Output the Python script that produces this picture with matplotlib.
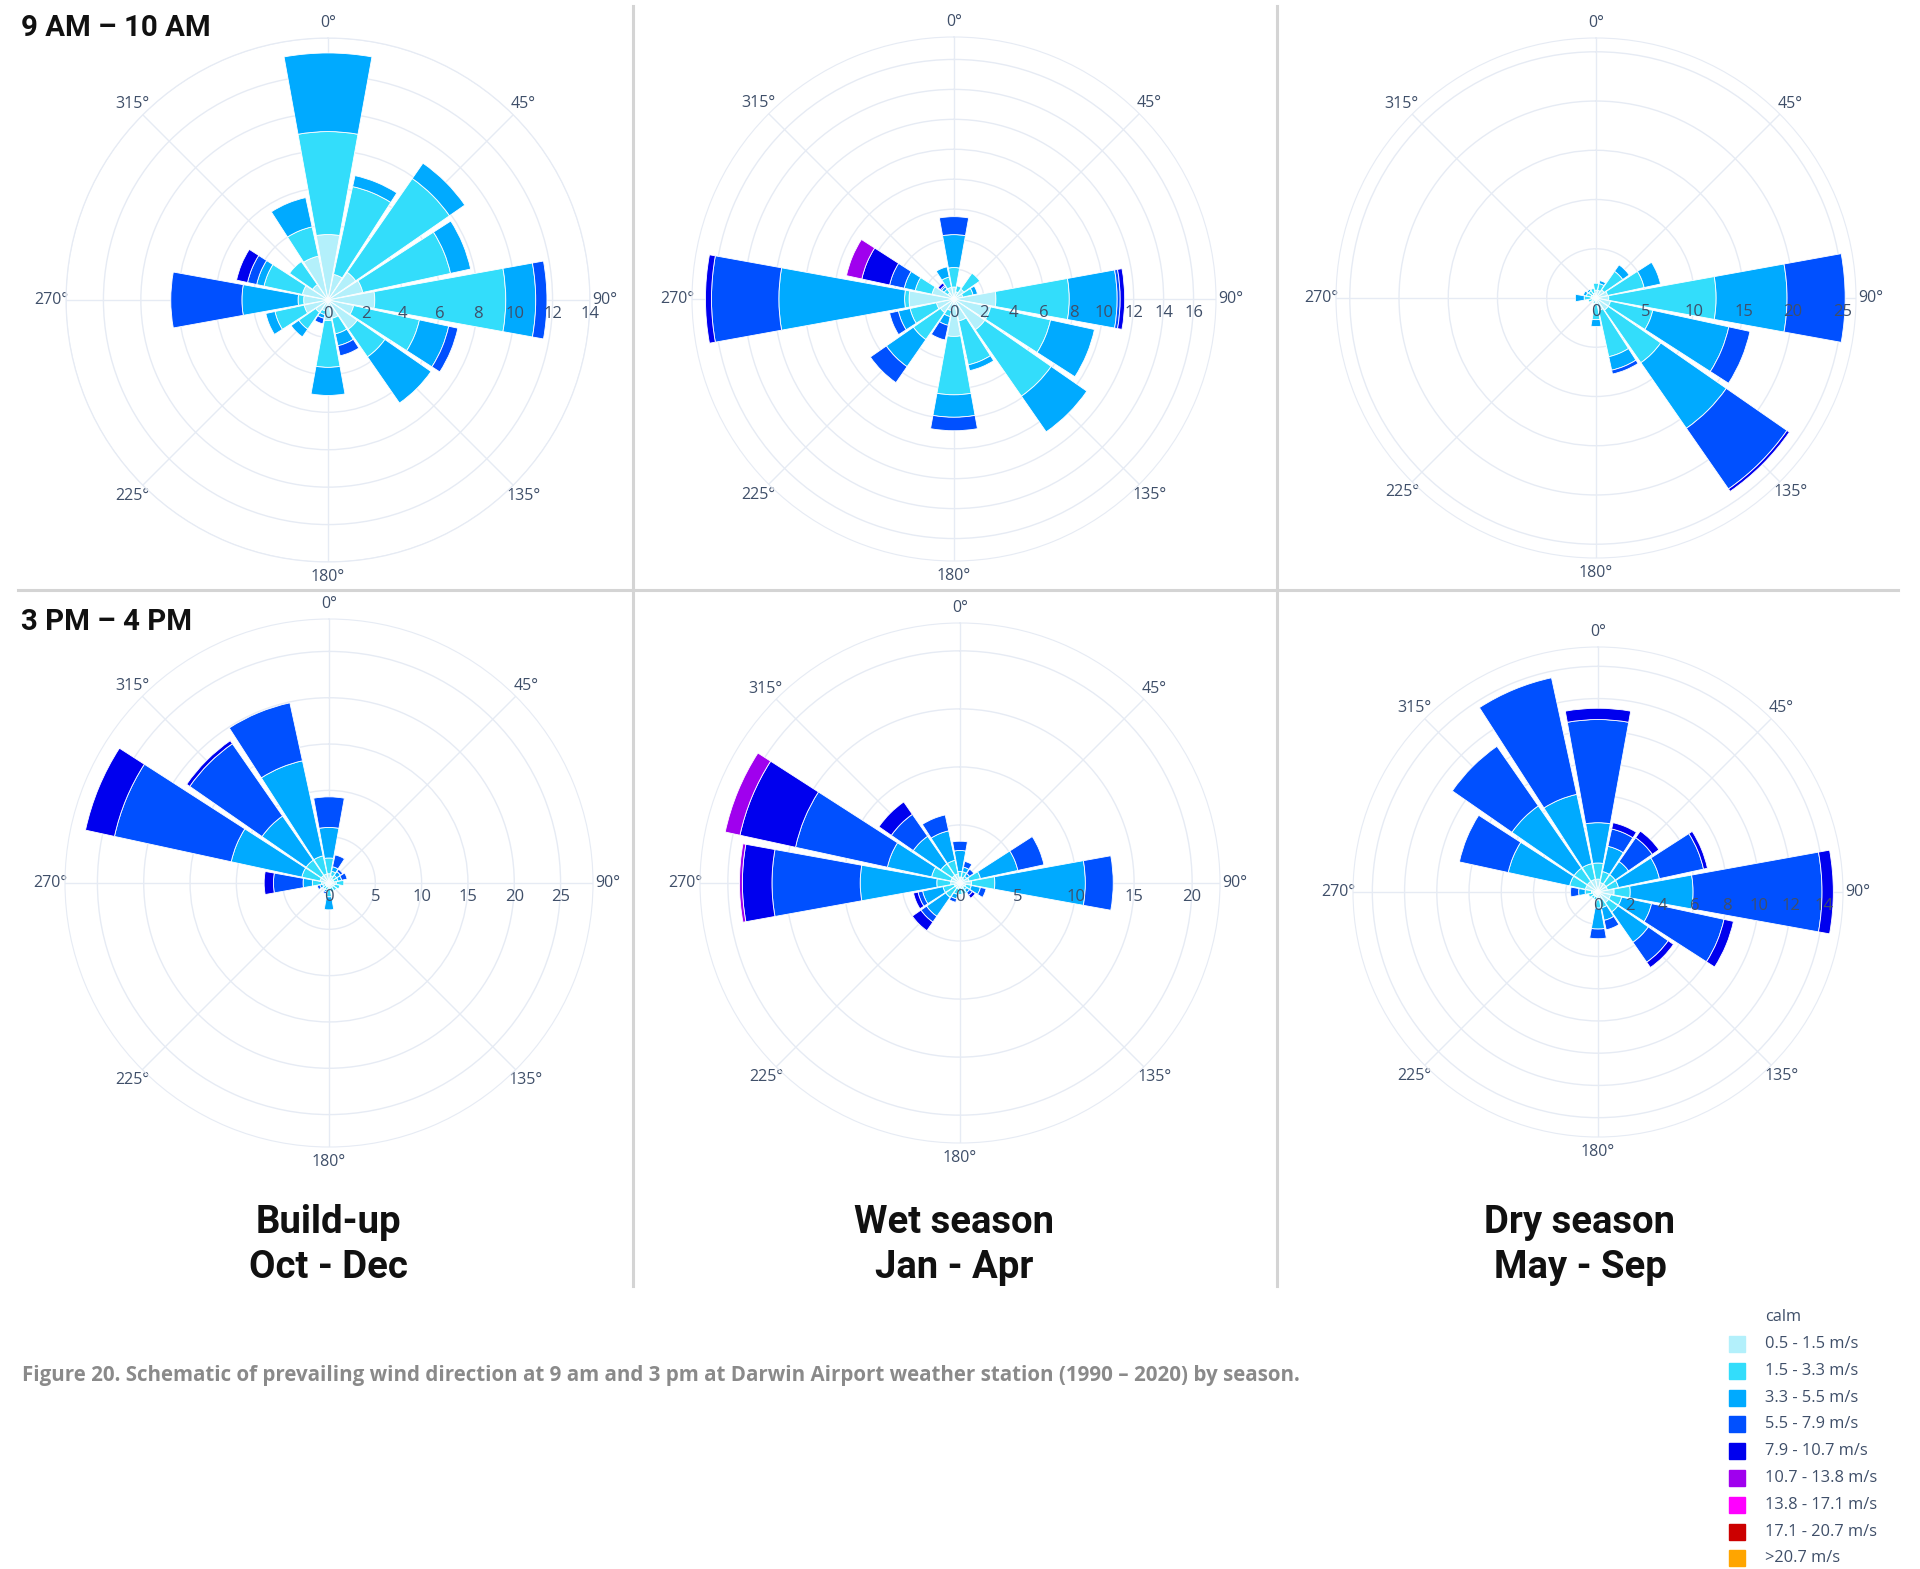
import numpy as np
import matplotlib
matplotlib.use("Agg")
import matplotlib.pyplot as plt
from matplotlib.patches import Rectangle
from matplotlib.lines import Line2D

W, H = 1920, 1569

directions = ['N', 'NNE', 'NE', 'ENE', 'E', 'ESE', 'SE', 'SSE',
              'S', 'SSW', 'SW', 'WSW', 'W', 'WNW', 'NW', 'NNW']
speed_bins = ['0.5 - 1.5 m/s', '1.5 - 3.3 m/s', '3.3 - 5.5 m/s', '5.5 - 7.9 m/s',
              '7.9 - 10.7 m/s', '10.7 - 13.8 m/s', '13.8 - 17.1 m/s',
              '17.1 - 20.7 m/s', '>20.7 m/s']
bin_colors = ['#b3f0fb', '#33ddfb', '#00aaff', '#0050ff', '#0000ee',
              '#a000ee', '#ff00ff', '#cc0000', '#ffa500']

seasons = ['Build-up\nOct - Dec', 'Wet season\nJan - Apr', 'Dry season\nMay - Sep']
hours = ['9 AM \u2013 10 AM', '3 PM \u2013 4 PM']

# frequency (%) per direction, one entry per speed bin (slowest first)
buildup_am = [
    [3.5, 5.5, 4.2], [1.4, 4.8, 0.6], [1.8, 6.1, 1.0], [1.9, 4.8, 1.1],
    [2.5, 7.0, 1.6, 0.6], [1.4, 3.6, 1.6, 0.5], [1.9, 1.8, 3.0], [1.0, 0.85, 0.65, 0.55],
    [1.1, 2.5, 1.5], [0.6, 0.2, 0.2, 0.3], [0.8, 1.1, 0.5], [1.3, 1.6, 0.5],
    [1.3, 0.3, 3.0, 3.8], [1.4, 2.1, 0.4, 0.5, 0.6], [1.0, 1.5], [2.4, 1.6, 1.6],
]
wet_am = [
    [0.8, 1.3, 2.2, 1.2], [0.5, 0.4], [0.8, 1.3], [0.6, 0.7, 0.3],
    [2.8, 4.9, 3.2, 0.2, 0.3], [2.5, 4.1, 3.0], [2.5, 5.4, 2.9], [1.5, 3.0, 0.4],
    [2.5, 3.9, 1.5, 0.9], [0.8, 0.4, 0.6, 1.0], [1.1, 2.2, 2.2, 1.3], [1.2, 1.8, 0.8, 0.6],
    [3.0, 0.3, 8.4, 4.5, 0.4], [1.5, 1.15, 0.75, 1.0, 1.9, 1.05], [0.5, 0.3, 0.2, 0.1, 0.2], [0.8, 0.7, 0.7],
]
dry_am = [
    [0.8, 0.7], [0.8, 0.7, 0.3], [1.0, 2.3, 0.8], [1.2, 3.8, 1.7],
    [1.3, 10.9, 7.2, 5.9], [1.5, 4.4, 7.9, 2.2], [1.5, 6.5, 8.1, 7.5, 0.3], [1.3, 4.8, 1.4, 0.4],
    [0.7, 1.5, 0.7], [0.3, 0.3], [0.3, 0.2], [0.4, 0.4],
    [0.5, 0.7, 0.9], [0.5, 0.5, 0.3], [0.4, 0.5, 0.2], [0.5, 0.5],
]
buildup_pm = [
    [1.0, 1.7, 3.3, 3.3], [0.8, 0.5, 0.5, 1.3], [0.5, 0.5, 0.5, 0.3], [0.5, 0.5, 0.4, 0.6],
    [0.8, 0.8], [0.6, 0.6], [0.5, 0.5], [0.5, 0.5],
    [0.7, 0.8, 1.4], [0.4, 0.4, 0.2, 0.2], [0.4, 0.4], [0.4, 0.3, 0.3, 0.3],
    [0.8, 1.0, 1.0, 3.2, 1.0], [1.0, 2.0, 7.8, 12.9, 3.2], [1.0, 2.0, 5.8, 9.5, 0.4], [1.0, 2.0, 10.5, 6.4],
]
wet_pm = [
    [0.5, 0.5, 1.8, 0.8], [0.5, 0.5, 0.4, 0.5], [0.4, 0.3, 0.3, 0.45], [0.8, 1.0, 3.3, 2.3],
    [1.0, 2.0, 7.8, 2.4], [0.5, 0.5, 0.8, 0.5], [0.4, 0.3, 0.3, 0.3, 0.3], [0.5, 0.5],
    [0.4, 0.6], [0.5, 0.5, 0.4, 0.3], [0.5, 1.0, 2.0, 0.6, 0.9], [0.5, 1.0, 1.8, 0.4, 0.4],
    [0.8, 1.2, 6.6, 7.6, 2.55, 0.25], [0.8, 1.7, 3.9, 8.1, 4.9, 1.3], [0.8, 1.2, 2.9, 2.3, 1.3], [0.8, 1.2, 2.6, 1.4],
]
dry_pm = [
    [0.8, 1.0, 2.5, 6.4, 0.7], [0.6, 0.7, 1.6, 1.1, 0.4], [0.6, 0.7, 1.0, 1.8, 0.5], [0.6, 0.7, 2.6, 2.8, 0.25],
    [1.0, 1.0, 3.9, 8.0, 0.7], [0.8, 0.7, 1.9, 4.6, 0.6], [0.8, 0.7, 2.3, 1.5, 0.4], [0.5, 0.5, 0.8, 0.6],
    [0.5, 0.5, 1.3, 0.6], [0.3, 0.2], [0.3, 0.2], [0.3, 0.3],
    [0.4, 0.4, 0.4, 0.5], [0.8, 1.0, 3.9, 3.1], [0.8, 1.0, 4.7, 4.5], [0.8, 1.0, 4.4, 7.4],
]

# radial scale of each rose: outer limit and tick values
range_max = [14.0, 17.5, 26.4, 28.5, 22.4, 15.2]
range_ticks = [list(range(0, 15, 2)), list(range(0, 17, 2)), list(range(0, 26, 5)),
               list(range(0, 26, 5)), list(range(0, 21, 5)), list(range(0, 15, 2))]

tick_color = '#3f4f69'
grid_color = '#e6ebf4'

fig = plt.figure(figsize=(W / 100, H / 100), dpi=100)


def stack(rows):
    arr = np.zeros((len(directions), len(speed_bins)))
    for i, row in enumerate(rows):
        arr[i, :len(row)] = row
    return arr


def draw_rose(rows, cx, cy, rad, rmax, rticks):
    ax = fig.add_axes([(cx - rad) / W, (H - cy - rad) / H, 2 * rad / W, 2 * rad / H],
                      projection='polar')
    ax.set_theta_zero_location('N')
    ax.set_theta_direction(-1)
    freq = stack(rows)
    theta = np.deg2rad(np.arange(len(directions)) * 22.5)
    base = np.zeros(len(directions))
    for k in range(len(speed_bins)):
        h = freq[:, k]
        m = h > 0
        if m.any():
            ax.bar(theta[m], h[m], width=np.deg2rad(20.5), bottom=base[m],
                   color=bin_colors[k], edgecolor='white', linewidth=0.6, zorder=3)
        base += h
    ax.set_ylim(0, rmax)
    ax.set_yticks(rticks)
    ax.set_yticklabels([])
    for v in rticks:
        ax.annotate(str(v), xy=(np.pi / 2, v), xytext=(0, -10), textcoords='offset points',
                    ha='center', va='center', fontsize=12, color=tick_color,
                    family='Open Sans', zorder=6, annotation_clip=False)
    ang = np.arange(0, 360, 45)
    ax.set_xticks(np.deg2rad(ang))
    ax.set_xticklabels([f'{a}\u00b0' for a in ang], family='Open Sans')
    ax.tick_params(axis='x', pad=0, labelsize=11.5, colors=tick_color)
    ax.grid(color=grid_color, linewidth=1.0)
    ax.spines['polar'].set_color(grid_color)
    ax.set_axisbelow(True)
    return ax


panels = [buildup_am, wet_am, dry_am, buildup_pm, wet_pm, dry_pm]
centres = [(328, 300, 262), (954, 299, 262), (1596, 298, 260),
           (329, 883, 264), (960, 883, 260), (1598, 892, 245)]
for rows, (cx, cy, rad), rmax, rt in zip(panels, centres, range_max, range_ticks):
    draw_rose(rows, cx, cy, rad, rmax, rt)

# panel dividers
div = '#d4d4d4'
for x in (633, 1277):
    fig.add_artist(Line2D([x / W, x / W], [1 - 6 / H, 1 - 1286 / H], color=div, lw=2.2))
fig.add_artist(Line2D([18 / W, 1898 / W], [1 - 590 / H, 1 - 590 / H], color=div, lw=2.2))

# row and column headings
for txt, y in zip(hours, [36, 630]):
    fig.text(21 / W, 1 - y / H, txt, fontsize=21.2, fontweight='bold', family='Roboto',
             color='#111111', ha='left', va='baseline')
for txt, x in zip(seasons, [328, 954, 1580]):
    fig.text(x / W, 1 - 1245 / H, txt, fontsize=27.5, fontweight='bold', family='Roboto',
             color='#111111', ha='center', va='center', linespacing=1.3)

fig.text(22 / W, 1 - 1375 / H,
         'Figure 20. Schematic of prevailing wind direction at 9 am and 3 pm at Darwin Airport '
         'weather station (1990 \u2013 2020) by season.',
         fontsize=14.8, fontweight='bold', family='Open Sans', color='#8a8a8a',
         ha='left', va='center')

# legend
fig.text(1765 / W, 1 - 1317 / H, 'calm', fontsize=11.8, family='Open Sans',
         color=tick_color, ha='left', va='center')
for i, (lab, col) in enumerate(zip(speed_bins, bin_colors)):
    yc = 1344 + i * 26.8
    fig.add_artist(Rectangle((1729 / W, 1 - (yc + 8) / H), 16 / W, 16 / H,
                             transform=fig.transFigure, color=col))
    fig.text(1765 / W, 1 - yc / H, lab, fontsize=11.8, family='Open Sans',
             color=tick_color, ha='left', va='center')

fig.savefig('out.png', dpi=100, facecolor='white')
